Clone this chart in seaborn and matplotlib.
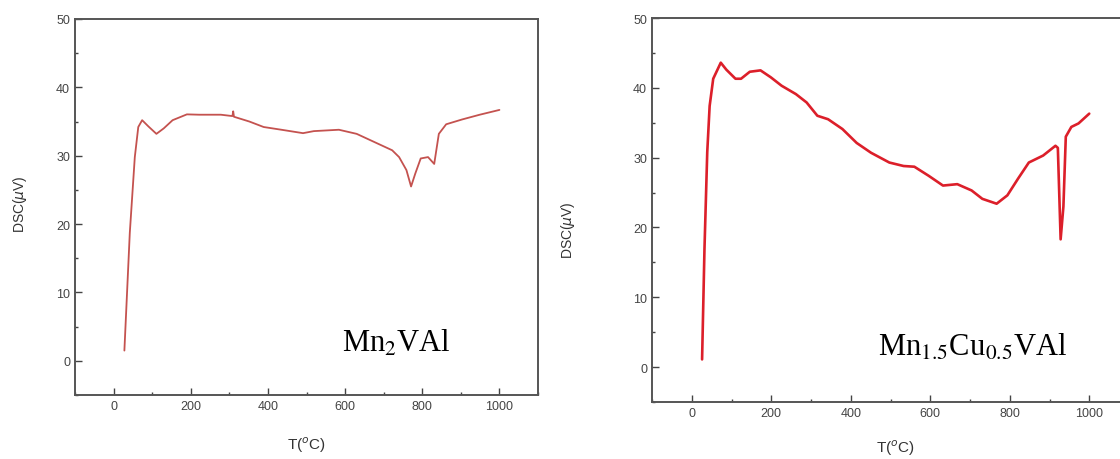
import matplotlib
matplotlib.use("Agg")
import matplotlib.pyplot as plt
import seaborn as sns
import pandas as pd
from matplotlib.ticker import MultipleLocator

# Mn2VAl DSC curve
t_mn2 = [28, 42, 55, 64, 74, 90, 111, 130, 153, 190, 222, 278, 308, 310, 312, 352, 389, 435,
         491, 519, 584, 630, 676, 722, 740, 759, 771, 782, 796, 815, 831, 843, 862, 903, 949, 1000]
dsc_mn2 = [1.5, 18.7, 29.8, 34.2, 35.2, 34.3, 33.2, 34.0, 35.2, 36.05, 36.0, 36.0, 35.8, 36.5, 35.7,
           35.0, 34.2, 33.8, 33.3, 33.6, 33.8, 33.2, 32.0, 30.8, 29.8, 27.9, 25.5, 27.4, 29.6, 29.8,
           28.8, 33.2, 34.6, 35.3, 36.0, 36.7]

# Mn1.5Cu0.5VAl DSC curve
t_cu = [26, 32, 39, 45, 54, 73, 87, 110, 124, 146, 173, 199, 226, 262, 289, 316, 343, 379, 415,
        451, 497, 533, 560, 596, 632, 668, 704, 731, 767, 794, 821, 848, 884, 915, 921, 928, 935,
        941, 955, 973, 1000]
dsc_cu = [1.1, 16.9, 30.8, 37.4, 41.3, 43.6, 42.6, 41.3, 41.3, 42.3, 42.5, 41.5, 40.3, 39.1, 37.9,
          36.0, 35.5, 34.1, 32.1, 30.7, 29.3, 28.8, 28.7, 27.4, 26.0, 26.2, 25.3, 24.1, 23.4, 24.6,
          27.0, 29.3, 30.3, 31.7, 31.4, 18.3, 23.0, 33.0, 34.4, 34.9, 36.3]

sns.set_style("ticks")
plt.rcParams['font.family'] = ['Liberation Sans', 'DejaVu Sans']

fig = plt.figure(figsize=(11.2, 4.6), dpi=100)
ax1 = fig.add_axes([75 / 1120, 64 / 460, 463 / 1120, 376 / 460])
ax2 = fig.add_axes([652 / 1120, 57 / 460, 477 / 1120, 384 / 460])

df1 = pd.DataFrame({"T": t_mn2, "DSC": dsc_mn2})
df2 = pd.DataFrame({"T": t_cu, "DSC": dsc_cu})
sns.lineplot(data=df1, x="T", y="DSC", ax=ax1, sort=False, color="#c4524f", lw=1.3)
sns.lineplot(data=df2, x="T", y="DSC", ax=ax2, sort=False, color="#dc1f2a", lw=1.9)

for ax in (ax1, ax2):
    ax.set_xlim(-100, 1100)
    ax.set_ylim(-5, 50)
    ax.xaxis.set_major_locator(MultipleLocator(200))
    ax.xaxis.set_minor_locator(MultipleLocator(100))
    ax.yaxis.set_major_locator(MultipleLocator(10))
    ax.yaxis.set_minor_locator(MultipleLocator(5))
    ax.tick_params(which="both", direction="in", colors="#444444", labelsize=9, width=1.0)
    ax.tick_params(which="major", length=5)
    ax.tick_params(which="minor", length=2)
    for s in ax.spines.values():
        s.set_color("#555555")
        s.set_linewidth(1.4)
    ax.set_xlabel("T($^o$C)", fontsize=11, color="#333333")
    ax.set_ylabel("DSC($\\mu$V)", fontsize=10, color="#333333")

ax1.xaxis.set_label_coords(0.50, -0.105)
ax1.yaxis.set_label_coords(-0.10, 0.51)
ax2.xaxis.set_label_coords(0.51, -0.093)
ax2.yaxis.set_label_coords(-0.157, 0.45)

ax1.text(593, 1.5, "Mn$_2$VAl", fontsize=22, color="black",
         family="Liberation Serif", math_fontfamily="stix")
ax2.text(469, 1.7, "Mn$_{1.5}$Cu$_{0.5}$VAl", fontsize=22, color="black",
         family="Liberation Serif", math_fontfamily="stix")

fig.savefig("out.png", dpi=100)
